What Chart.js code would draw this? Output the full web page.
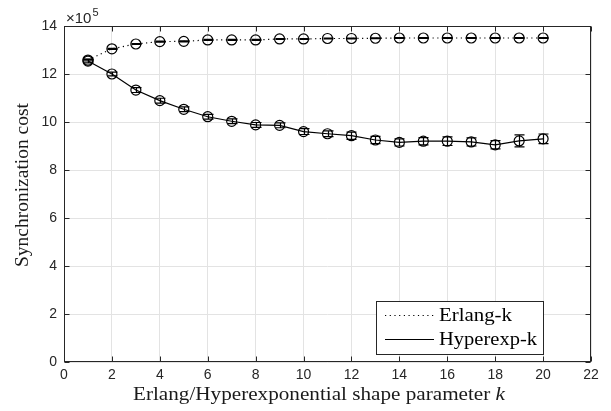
<!DOCTYPE html>
<html lang="en">
<head>
	<meta charset="UTF-8">
	<title>synchronization cost</title>
	<script src="https://cdn.jsdelivr.net/npm/chart.js@4"></script>
	<style>
		html, body { margin: 0; padding: 0; background: #fff; }
		#wrap { width: 611px; height: 411px; }
	</style>
</head>
<body>
	<div id="wrap"><canvas id="myChart" width="611" height="411"></canvas></div>
<script>
	// values in units of 1e5
	const kValues = [1, 2, 3, 4, 5, 6, 7, 8, 9, 10, 11, 12, 13, 14, 15, 16, 17, 18, 19, 20];
	const erlang = [12.58, 13.05, 13.25, 13.35, 13.36, 13.42, 13.42, 13.42, 13.46, 13.46,
		13.48, 13.48, 13.49, 13.5, 13.5, 13.5, 13.5, 13.5, 13.5, 13.5];
	const erlangErr = [0.03, 0.02, 0.02, 0.02, 0.02, 0.02, 0.02, 0.02, 0.02, 0.02,
		0.02, 0.02, 0.02, 0.02, 0.02, 0.02, 0.02, 0.02, 0.02, 0.02];
	const hyper = [12.54, 12.0, 11.33, 10.89, 10.53, 10.22, 10.03, 9.88, 9.86, 9.6,
		9.51, 9.43, 9.25, 9.15, 9.2, 9.2, 9.17, 9.05, 9.21, 9.3];
	const hyperErr = [0.08, 0.08, 0.1, 0.1, 0.1, 0.1, 0.1, 0.1, 0.1, 0.12,
		0.12, 0.15, 0.15, 0.15, 0.15, 0.18, 0.17, 0.17, 0.25, 0.2];
	const xTicks = [0, 2, 4, 6, 8, 10, 12, 14, 16, 18, 20, 22];
	const yTicks = [0, 2, 4, 6, 8, 10, 12, 14];

	const sans = '"Liberation Sans", Arial, sans-serif';
	const serif = '"Liberation Serif", "Times New Roman", serif';
	const axisColor = '#262626';

	function pts(ys) {
		return kValues.map((k, i) => ({ x: k, y: ys[i] }));
	}

	// text squeezed/stretched to a target width
	function fitText(ctx, parts, x, y, width) {
		let total = 0;
		parts.forEach(p => { ctx.font = p.font; total += ctx.measureText(p.text).width; });
		ctx.save();
		ctx.translate(x, y);
		ctx.scale(width / total, 1);
		let cx = 0;
		parts.forEach(p => {
			ctx.font = p.font;
			ctx.fillText(p.text, cx, 0);
			cx += ctx.measureText(p.text).width;
		});
		ctx.restore();
	}

	const decorations = {
		id: 'decorations',
		afterDatasetsDraw(chart) {
			const ctx = chart.ctx;
			const a = chart.chartArea;
			const xs = chart.scales.x, ys = chart.scales.y;

			// error bars
			const errs = [erlangErr, hyperErr];
			chart.data.datasets.forEach((ds, di) => {
				ctx.save();
				ctx.strokeStyle = '#000';
				ctx.lineWidth = 1.2;
				ds.data.forEach((p, i) => {
					const px = Math.round(xs.getPixelForValue(p.x)) + 0.5;
					const top = ys.getPixelForValue(p.y + errs[di][i]);
					const bot = ys.getPixelForValue(p.y - errs[di][i]);
					ctx.beginPath();
					ctx.moveTo(px, top); ctx.lineTo(px, bot);
					ctx.moveTo(px - 5, top); ctx.lineTo(px + 5, top);
					ctx.moveTo(px - 5, bot); ctx.lineTo(px + 5, bot);
					ctx.stroke();
				});
				ctx.restore();
			});

			// box and inward ticks
			ctx.save();
			ctx.strokeStyle = axisColor;
			ctx.lineWidth = 1;
			const L = Math.round(a.left) + 0.5, R = Math.round(a.right) - 0.5;
			const T = Math.round(a.top) + 0.5, B = Math.round(a.bottom) - 0.5;
			ctx.strokeRect(L, T, R - L, B - T);
			ctx.beginPath();
			xTicks.forEach(v => {
				const px = Math.round(xs.getPixelForValue(v)) + 0.5;
				ctx.moveTo(px, B); ctx.lineTo(px, B - 5);
				ctx.moveTo(px, T); ctx.lineTo(px, T + 5);
			});
			yTicks.forEach(v => {
				const py = Math.round(ys.getPixelForValue(v)) + 0.5;
				ctx.moveTo(L, py); ctx.lineTo(L + 5, py);
				ctx.moveTo(R, py); ctx.lineTo(R - 5, py);
			});
			ctx.stroke();
			ctx.restore();

			// exponent label
			ctx.save();
			ctx.fillStyle = axisColor;
			ctx.textBaseline = 'alphabetic';
			ctx.font = '15px ' + sans;
			ctx.fillText('\u00d710', a.left + 2, a.top - 3);
			const w = ctx.measureText('\u00d710').width;
			ctx.font = '11px ' + sans;
			ctx.fillText('5', a.left + 3 + w, a.top - 10);

			// axis titles
			ctx.fillStyle = '#1a1a1a';
			fitText(ctx, [
				{ text: 'Erlang/Hyperexponential shape parameter ', font: '18px ' + serif },
				{ text: 'k', font: 'italic 18px ' + serif }
			], 133, 400, 372);
			ctx.save();
			ctx.translate(28, 267);
			ctx.rotate(-Math.PI / 2);
			fitText(ctx, [{ text: 'Synchronization cost', font: '18px ' + serif }], 0, 0, 164);
			ctx.restore();

			// legend
			const lx = 376.5, ly = 301.5, lw = 167, lh = 53;
			const labelW = [73, 98];
			ctx.fillStyle = '#fff';
			ctx.fillRect(lx, ly, lw, lh);
			ctx.strokeStyle = axisColor;
			ctx.strokeRect(lx, ly, lw, lh);
			chart.data.datasets.forEach((ds, i) => {
				const yy = 315.5 + i * 24;
				ctx.beginPath();
				ctx.strokeStyle = '#000';
				ctx.lineWidth = 1.2;
				ctx.setLineDash(ds.borderDash || []);
				ctx.moveTo(385, yy); ctx.lineTo(434, yy);
				ctx.stroke();
				ctx.setLineDash([]);
				ctx.fillStyle = '#000';
				ctx.textBaseline = 'middle';
				fitText(ctx, [{ text: ds.label, font: '19px ' + serif }], 439, yy + 1, labelW[i]);
			});
			ctx.restore();
		}
	};

	const ctx = document.getElementById('myChart').getContext('2d');
	const myChart = new Chart(ctx, {
		type: 'line',
		data: {
			datasets: [
				{
					label: 'Erlang-k',
					data: pts(erlang),
					borderColor: '#000',
					borderWidth: 1.2,
					borderDash: [1.2, 3.5],
					pointStyle: 'circle',
					pointRadius: 5,
					pointBorderColor: '#000',
					pointBackgroundColor: 'rgba(0,0,0,0)',
					pointBorderWidth: 1.2,
					fill: false,
					tension: 0
				},
				{
					label: 'Hyperexp-k',
					data: pts(hyper),
					borderColor: '#000',
					borderWidth: 1.2,
					pointStyle: 'circle',
					pointRadius: 5,
					pointBorderColor: '#000',
					pointBackgroundColor: 'rgba(0,0,0,0)',
					pointBorderWidth: 1.2,
					fill: false,
					tension: 0
				}
			]
		},
		options: {
			responsive: false,
			animation: false,
			layout: { padding: { top: 26, right: 20, left: 0, bottom: 0 } },
			plugins: { legend: { display: false }, tooltip: { enabled: false } },
			scales: {
				x: {
					type: 'linear',
					min: 0, max: 22,
					afterBuildTicks: s => { s.ticks = xTicks.map(v => ({ value: v })); },
					afterFit: s => { s.height = 49; },
					grid: { color: '#e3e3e3', drawTicks: false },
					border: { display: false },
					ticks: { color: axisColor, font: { family: sans, size: 14 }, padding: 5, maxRotation: 0 }
				},
				y: {
					min: 0, max: 14,
					afterBuildTicks: s => { s.ticks = yTicks.map(v => ({ value: v })); },
					afterFit: s => { s.width = 64; },
					grid: { color: '#e3e3e3', drawTicks: false },
					border: { display: false },
					ticks: { color: axisColor, font: { family: sans, size: 14 }, padding: 7 }
				}
			}
		},
		plugins: [decorations]
	});
</script>
</body>
</html>
